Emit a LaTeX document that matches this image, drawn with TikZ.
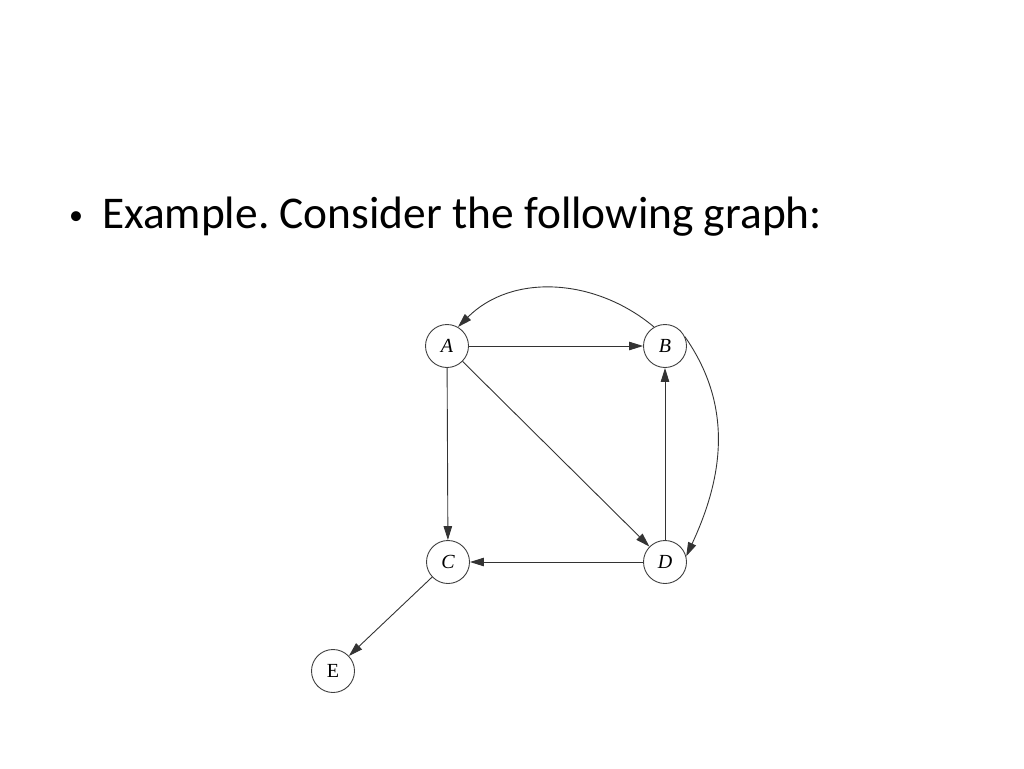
\documentclass[tikz,border=0pt]{standalone}
\usepackage{fontspec}
\setmainfont{Carlito}
\newfontfamily\tms{Liberation Serif}
\usetikzlibrary{arrows.meta}
\begin{document}
\begin{tikzpicture}[x=1pt,y=-1pt,
  vtx/.style={circle,draw=black!75,line width=0.9pt,minimum size=43pt,inner sep=0pt,font=\tms\fontsize{20}{20}\selectfont},
  edge/.style={draw=black!80,line width=0.9pt,-{Triangle[length=14pt,width=8.5pt]}}]
\useasboundingbox (0,0) rectangle (1024,768);
\node[anchor=base west,font=\fontsize{45.4}{45.4}\selectfont,inner sep=0pt] (title) at (69,228) {\frenchspacing\raisebox{4pt}{\fontsize{28}{28}\selectfont •}\hspace{19pt}Example. Consider the following graph:};
\node[vtx] (A) at (447,346) {\itshape A};
\node[vtx] (B) at (665,346) {\itshape B};
\node[vtx] (C) at (448,562) {\itshape C};
\node[vtx] (D) at (665,562) {\itshape D};
\node[vtx] (E) at (333,671) {E};
\draw[edge] (A) -- (B);
\draw[edge] (A) -- (C);
\draw[edge] (A) -- (D);
\draw[edge] (D) -- (B);
\draw[edge] (D) -- (C);
\draw[edge] (C) -- (E);
\draw[edge] (B.120) to[out=140,in=45] (A.60);
\draw[edge] (B.25) to[out=-55,in=65] (D.15);
\end{tikzpicture}
\end{document}
